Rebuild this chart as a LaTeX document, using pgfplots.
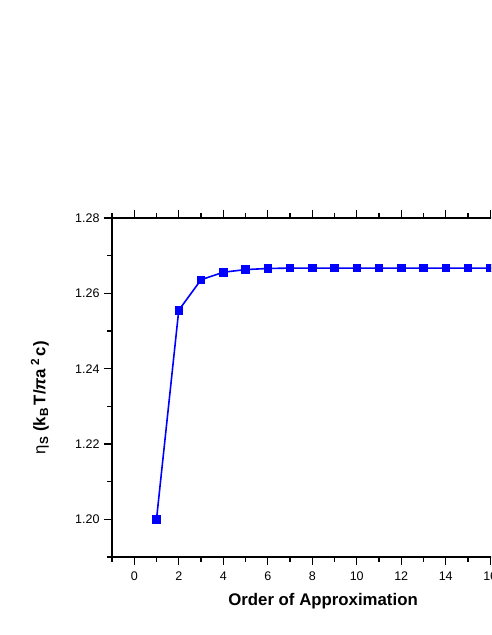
\documentclass[border=0pt]{standalone}
\usepackage{fontspec}
\setmainfont{Liberation Sans}
\usepackage{pgfplots}
\pgfplotsset{compat=1.18}
\begin{document}
\begin{tikzpicture}
\path[use as bounding box] (0,0) rectangle (491pt,635pt);
\clip (0,0) rectangle (491pt,635pt);
\begin{axis}[at={(112pt,78pt)},anchor=south west,scale only axis,width=400.5pt,height=339pt,
  xmin=-1,xmax=17,ymin=1.19,ymax=1.28,
  xtick={0,2,4,6,8,10,12,14,16},minor xtick={-1,1,3,5,7,9,11,13,15,17},
  ytick={1.20,1.22,1.24,1.26,1.28},minor ytick={1.19,1.21,1.23,1.25,1.27},
  tick align=outside,major tick length=8pt,minor tick length=4.5pt,
  every tick/.style={black,line width=1.2pt},axis line style={line width=1.5pt},
  /pgf/number format/assume math mode=true,
  tick label style={font=\fontsize{12.5}{14}\selectfont},
  xticklabel style={yshift=-3pt},
  yticklabel style={xshift=-1pt,/pgf/number format/.cd,fixed,fixed zerofill,precision=2},
  xlabel={\textbf{Order of Approximation}},
  xlabel style={font=\fontsize{16.8}{18}\selectfont,at={(axis description cs:0.527,-0.13)},anchor=center},
  ylabel={η\textsubscript{\textbf{S}} \textbf{(k\textsubscript{B}\,T/\textit{π}a\,\textsuperscript{2}\,c)}},
  ylabel style={font=\fontsize{16.8}{18}\selectfont,at={(axis description cs:-0.18,0.47)},anchor=center},
]
\addplot[blue,line width=1.6pt,mark=square*,mark size=3.8pt,mark options={fill=blue,line width=0.8pt}] coordinates {
(1,1.2000) (2,1.2555) (3,1.2636) (4,1.2656) (5,1.2663) (6,1.2666) (7,1.2667) (8,1.2667) (9,1.2667)
(10,1.2667) (11,1.2667) (12,1.2667) (13,1.2667) (14,1.2667) (15,1.2667) (16,1.2667) (17,1.2667)};
\end{axis}
\end{tikzpicture}
\end{document}
